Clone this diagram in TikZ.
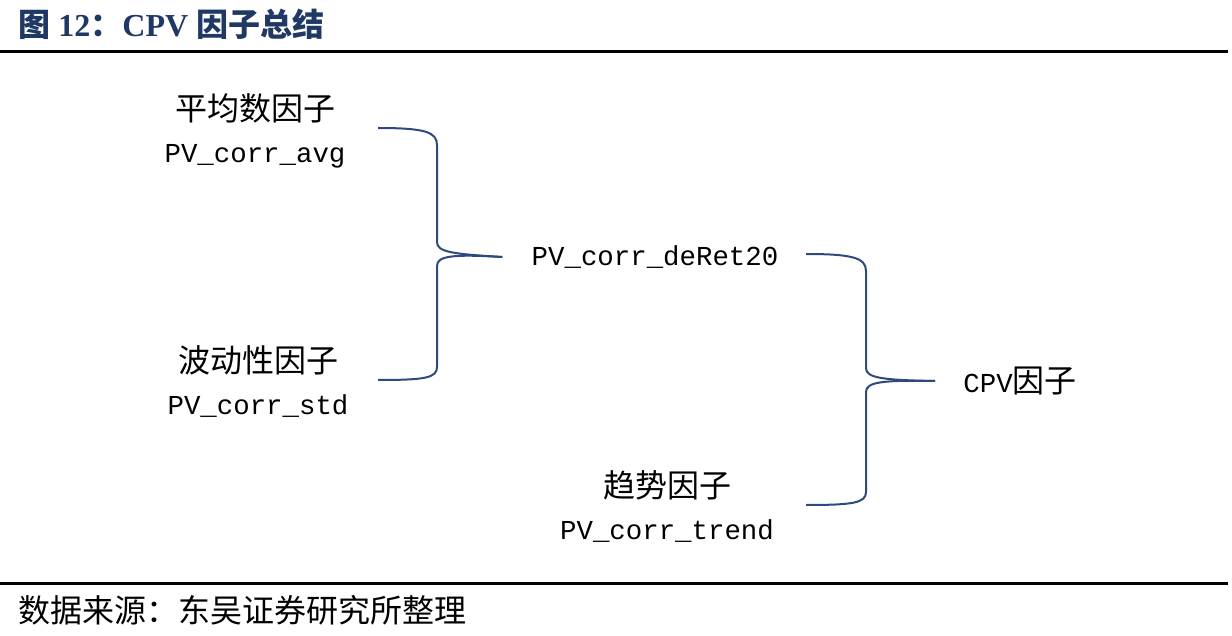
\documentclass[tikz,border=0pt]{standalone}
\usepackage{fontspec}
\setmainfont{Liberation Serif}
\setmonofont{Liberation Mono}
\newfontfamily\cjk{Noto Sans CJK SC}
\definecolor{navy}{HTML}{1F3864}
\definecolor{bracecol}{HTML}{2E4A7D}
\begin{document}
\begin{tikzpicture}[x=0.5pt,y=-0.5pt]
        \tikzstyle{factor}=[inner sep=0pt,align=center,font=\fontsize{16}{21}\selectfont]
        \tikzstyle{code}=[inner sep=0pt,font=\fontsize{13.7}{16}\ttfamily]
        \tikzstyle{brace}=[draw=bracecol,line width=1pt]
        \tikzstyle{rule}=[draw=black,line width=1.5pt]

        \useasboundingbox (0,0) rectangle (1232,636);

        % heading and source
        \node [anchor=west,inner sep=0pt,text=navy,font=\fontsize{16}{19}\selectfont\bfseries] (title) at (18,24)
              {{\cjk 图} 12{\cjk ：}CPV {\cjk 因子总结}};
        \draw [rule] (0,52) -- (1228,52);
        \draw [rule] (0,583) -- (1228,583);
        \node [anchor=west,inner sep=0pt,font=\fontsize{16}{19}\cjk] (source) at (18,610)
              {数据来源：东吴证券研究所整理};

        % factors
        \node [factor] (avg) at (255,131) {{\cjk 平均数因子}\\{\fontsize{13.7}{16}\ttfamily PV\_corr\_avg}};
        \node [factor] (std) at (258,382) {{\cjk 波动性因子}\\{\fontsize{13.7}{16}\ttfamily PV\_corr\_std}};
        \node [code] (deret) at (655,257) {PV\_corr\_deRet20};
        \node [factor] (trend) at (667,507) {{\cjk 趋势因子}\\{\fontsize{13.7}{16}\ttfamily PV\_corr\_trend}};
        \node [anchor=west,inner sep=0pt,font=\fontsize{16}{19}\selectfont] (cpv) at (963,381)
              {{\fontsize{13.7}{16}\ttfamily CPV}{\cjk 因子}};

        % braces
        \coordinate (b1t) at (378,128);
        \coordinate (b1m) at ([xshift=-14.5pt]deret.west);
        \coordinate (b1b) at (378,380);
        \coordinate (b2t) at (806,254);
        \coordinate (b2m) at ([xshift=-14pt]cpv.west);
        \coordinate (b2b) at (806,505);

        \draw [brace] (b1t) .. controls (425,128) and (437,132) .. (437,145) -- (437,242)
              .. controls (437,252) and (452,254) .. (b1m);
        \draw [brace] (b1m) .. controls (452,254) and (437,256) .. (437,266) -- (437,367)
              .. controls (437,378) and (425,380) .. (b1b);
        \draw [brace] (b2t) .. controls (853,254) and (866,258) .. (866,271) -- (866,368)
              .. controls (866,378) and (882,380) .. (b2m);
        \draw [brace] (b2m) .. controls (882,380) and (866,382) .. (866,392) -- (866,492)
              .. controls (866,503) and (853,505) .. (b2b);
\end{tikzpicture}
\end{document}
